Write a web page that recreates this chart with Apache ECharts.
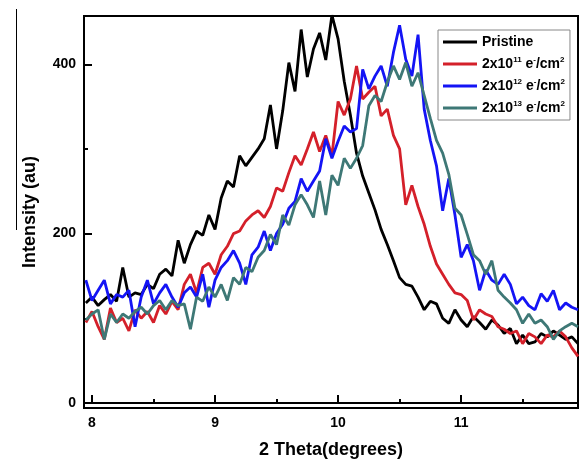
<!DOCTYPE html>
<html>
<head>
<meta charset="utf-8">
<script src="https://cdn.jsdelivr.net/npm/echarts@6/dist/echarts.min.js"></script>
<style>
  html, body { margin: 0; padding: 0; background: #fff; }
  #chart { width: 579px; height: 464px; }
</style>
</head>
<body>
<div id="chart"></div>
<script>
// XRD patterns, pristine vs irradiated
var theta = [
  7.95, 8.00, 8.05, 8.10, 8.15, 8.20, 8.25, 8.30, 8.35, 8.40, 8.45, 8.50, 8.55, 8.60, 8.65, 8.70, 8.75, 8.80, 8.85, 8.90,
  8.95, 9.00, 9.05, 9.10, 9.15, 9.20, 9.25, 9.30, 9.35, 9.40, 9.45, 9.50, 9.55, 9.60, 9.65, 9.70, 9.75, 9.80, 9.85, 9.90,
  9.95, 10.00, 10.05, 10.10, 10.15, 10.20, 10.25, 10.30, 10.35, 10.40, 10.45, 10.50, 10.55, 10.60, 10.65, 10.70, 10.75, 10.80, 10.85, 10.90,
  10.95, 11.00, 11.05, 11.10, 11.15, 11.20, 11.25, 11.30, 11.35, 11.40, 11.45, 11.50, 11.55, 11.60, 11.65, 11.70, 11.75, 11.80, 11.85, 11.90,
  11.95
];
var pristine = [
  118, 125, 115, 122, 128, 120, 160, 125, 130, 128, 140, 135, 152, 158, 150, 192, 165, 187, 203, 198,
  222, 205, 242, 262, 255, 292, 280, 290, 300, 312, 352, 300, 345, 402, 368, 441, 385, 418, 437, 405,
  458, 430, 380, 340, 295, 268, 248, 228, 205, 187, 168, 148, 140, 138, 125, 110, 120, 117, 100, 94,
  110, 98, 90, 102, 95, 87, 98, 92, 82, 88, 70, 80, 70, 72, 82, 78, 85, 80, 75, 78,
  70
];
var dose11 = [
  95, 108, 90, 75, 112, 95, 100, 85, 110, 100, 108, 95, 115, 105, 120, 110, 140, 152, 130, 160,
  165, 152, 175, 185, 200, 203, 215, 222, 227, 219, 232, 254, 250, 272, 292, 281, 300, 320, 297, 316,
  292, 356, 340, 359, 398, 359, 367, 374, 339, 347, 316, 300, 234, 257, 232, 211, 185, 164, 152, 140,
  130, 128, 121, 98, 110, 105, 102, 90, 87, 82, 85, 70, 82, 78, 70, 80, 78, 85, 78, 65,
  55
];
var dose12 = [
  145, 121, 133, 145, 117, 128, 125, 133, 90, 125, 145, 117, 130, 140, 125, 113, 130, 137, 125, 152,
  113, 145, 160, 168, 180, 165, 140, 175, 184, 203, 180, 200, 211, 230, 238, 265, 250, 262, 274, 312,
  289, 309, 327, 320, 324, 394, 371, 386, 398, 374, 414, 446, 406, 386, 435, 347, 310, 280, 227, 265,
  222, 172, 187, 168, 133, 157, 145, 140, 152, 140, 117, 125, 115, 110, 129, 120, 133, 110, 118, 113,
  110
];
var dose13 = [
  98, 105, 110, 75, 105, 95, 105, 100, 108, 113, 105, 115, 121, 110, 121, 115, 117, 87, 125, 120,
  137, 125, 140, 121, 148, 140, 160, 155, 172, 180, 199, 187, 222, 210, 234, 246, 234, 219, 262, 222,
  269, 257, 289, 277, 289, 304, 351, 363, 356, 379, 398, 382, 402, 374, 390, 363, 336, 310, 295, 270,
  230, 222, 199, 175, 168, 152, 168, 133, 125, 118, 110, 94, 105, 94, 98, 90, 75, 85, 90, 94,
  90
];
var seriesNames = ['Pristine', '2x10^11', '2x10^12', '2x10^13'];
var seriesColors = ['#000000', '#d4202a', '#1414f5', '#3e7876'];
var xLabels = [8, 9, 10, 11];
var xMinor = [8.5, 9.5, 10.5, 11.5];
var yLabels = [0, 200, 400];
var yMinor = [100, 300];

function pairs(ys) {
  return theta.map(function(t, i) { return [t, ys[i]]; });
}

var chart = echarts.init(document.getElementById('chart'), null, { renderer: 'canvas' });
var font = '"Liberation Sans", Arial, sans-serif';
var xMin = 7.935, xMax = 11.95, yMin = -6, yMax = 457;

var legendText = {
  'Pristine': 'Pristine',
  '2x10^11': '2x10{sup|11} e{sup|-}/cm{sup|2}',
  '2x10^12': '2x10{sup|12} e{sup|-}/cm{sup|2}',
  '2x10^13': '2x10{sup|13} e{sup|-}/cm{sup|2}'
};

chart.setOption({
  animation: false,
  backgroundColor: '#fff',
  grid: { left: 84, right: 1, top: 16, bottom: 52, show: true, borderColor: '#000', borderWidth: 2, containLabel: false },
  legend: {
    orient: 'vertical', left: 438, top: 30,
    padding: [4, 5, 4, 5], itemGap: 6,
    borderColor: '#888', borderWidth: 1,
    icon: 'rect', itemWidth: 34, itemHeight: 3,
    data: seriesNames,
    formatter: function(n) { return legendText[n]; },
    textStyle: {
      fontFamily: font, fontSize: 14, fontWeight: 'bold', color: '#000', lineHeight: 16,
      rich: { sup: { fontFamily: font, fontSize: 8, fontWeight: 'bold', verticalAlign: 'top', lineHeight: 16, padding: [0, 0, 6, 0] } }
    }
  },
  xAxis: [{
    type: 'value', min: xMin, max: xMax,
    name: '2 Theta(degrees)', nameLocation: 'middle', nameGap: 33,
    nameTextStyle: { fontFamily: font, fontSize: 18, fontWeight: 'bold', color: '#000' },
    axisLine: { show: true, lineStyle: { color: '#000', width: 2 } },
    axisTick: { show: true, inside: true, length: 8, customValues: xLabels, lineStyle: { color: '#000', width: 2 } },
    axisLabel: { customValues: xLabels, margin: 8, fontFamily: font, fontSize: 14, fontWeight: 'bold', color: '#000' },
    splitLine: { show: false }
  }, {
    type: 'value', min: xMin, max: xMax, position: 'bottom',
    axisLine: { show: false },
    axisTick: { show: true, inside: true, length: 4, customValues: xMinor, lineStyle: { color: '#000', width: 2 } },
    axisLabel: { show: false },
    splitLine: { show: false }
  }],
  yAxis: [{
    type: 'value', min: yMin, max: yMax,
    name: 'Intensity (au)', nameLocation: 'middle', nameGap: 45,
    nameTextStyle: { fontFamily: font, fontSize: 18, fontWeight: 'bold', color: '#000' },
    axisLine: { show: true, lineStyle: { color: '#000', width: 2 } },
    axisTick: { show: true, inside: true, length: 8, customValues: yLabels, lineStyle: { color: '#000', width: 2 } },
    axisLabel: { customValues: yLabels, margin: 8, fontFamily: font, fontSize: 14, fontWeight: 'bold', color: '#000' },
    splitLine: { show: false }
  }, {
    type: 'value', min: yMin, max: yMax, position: 'left',
    axisLine: { show: false },
    axisTick: { show: true, inside: true, length: 4, customValues: yMinor, lineStyle: { color: '#000', width: 2 } },
    axisLabel: { show: false },
    splitLine: { show: false }
  }],
  graphic: [{
    type: 'line', silent: true,
    shape: { x1: 16.5, y1: 9, x2: 16.5, y2: 230 },
    style: { stroke: '#000', lineWidth: 1 }
  }],
  series: [pristine, dose11, dose12, dose13].map(function(ys, i) {
    return {
      name: seriesNames[i], type: 'line', data: pairs(ys),
      showSymbol: false, symbol: 'none',
      lineStyle: { color: seriesColors[i], width: 2.8 },
      itemStyle: { color: seriesColors[i] },
      z: 2 + i
    };
  })
});
</script>
</body>
</html>
